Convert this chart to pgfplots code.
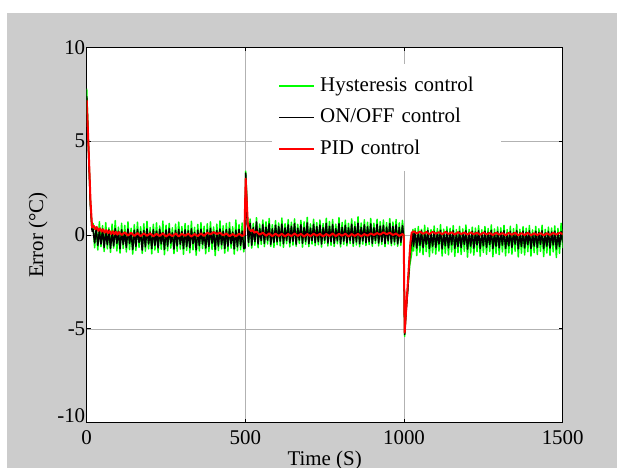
\documentclass[border=0pt]{standalone}
\usepackage{fontspec}
\setmainfont{Liberation Serif}
\usepackage{pgfplots}
\usepackage{pgfplotstable}
\pgfplotsset{compat=1.18}
\definecolor{bggray}{RGB}{204,204,204}
\definecolor{mgreen}{RGB}{0,255,0}
\definecolor{mred}{RGB}{255,0,0}

\pgfplotstableread{
t g k
0 7.80 7.40
6 4.50 4.30
12 1.60 1.50
17 0.30 0.20
20 0.62 0.30
25 -0.68 -0.42
30 0.45 0.35
35 -0.80 -0.55
40 0.71 0.22
45 -0.62 -0.48
50 0.50 0.31
55 -0.88 -0.66
60 0.66 0.18
65 -0.74 -0.52
70 0.38 0.27
75 -0.92 -0.71
80 0.58 0.12
85 -0.70 -0.58
90 0.77 0.34
95 -0.85 -0.45
100 0.42 0.20
105 -0.96 -0.74
110 0.63 0.28
115 -0.72 -0.50
120 0.51 0.15
125 -0.90 -0.67
130 0.70 0.32
135 -0.78 -0.44
140 0.36 0.10
145 -1.02 -0.78
150 0.55 0.26
155 -0.82 -0.61
160 0.68 0.30
165 -0.66 -0.40
170 0.44 0.18
175 -0.98 -0.80
180 0.60 0.24
185 -0.86 -0.63
190 0.72 0.33
195 -0.74 -0.48
200 0.40 0.16
205 -1.00 -0.72
210 0.57 0.29
215 -0.80 -0.56
220 0.65 0.21
225 -0.93 -0.69
230 0.48 0.31
235 -0.76 -0.47
240 0.74 0.14
245 -1.05 -0.77
250 0.52 0.27
255 -0.84 -0.60
260 0.62 0.34
265 -0.70 -0.43
270 0.39 0.12
275 -0.99 -0.75
280 0.58 0.25
285 -0.87 -0.58
290 0.69 0.30
295 -0.75 -0.50
300 0.45 0.19
305 -1.03 -0.73
310 0.61 0.28
315 -0.82 -0.62
320 0.50 0.22
325 -0.95 -0.68
330 0.73 0.33
335 -0.79 -0.46
340 0.41 0.15
345 -1.08 -0.79
350 0.56 0.26
355 -0.85 -0.57
360 0.66 0.31
365 -0.72 -0.49
370 0.47 0.13
375 -1.00 -0.70
380 0.60 0.27
385 -0.88 -0.61
390 0.70 0.35
395 -0.77 -0.44
400 0.43 0.18
405 -1.10 -0.76
410 0.58 0.24
415 -0.83 -0.59
420 0.75 0.32
425 -0.74 -0.52
430 0.49 0.20
435 -0.97 -0.72
440 0.62 0.29
445 -0.86 -0.60
450 0.67 0.33
455 -0.70 -0.47
460 0.44 0.16
465 -1.02 -0.74
470 0.80 0.26
475 -0.84 -0.63
480 0.55 0.30
485 -0.78 -0.55
490 0.64 0.21
495 -0.90 -0.72
499 -0.30 -0.70
501 3.40 3.30
504 2.20 2.00
507 0.40 0.30
510 -0.60 -0.40
515 0.85 0.62
520 -0.70 -0.55
525 0.62 0.40
530 -0.55 -0.35
535 0.92 0.70
540 -0.68 -0.48
545 0.58 0.35
550 -0.50 -0.30
555 0.80 0.55
560 -0.62 -0.45
565 0.70 0.42
570 -0.48 -0.28
575 0.88 0.60
580 -0.60 -0.50
585 0.55 0.33
590 -0.66 -0.40
595 0.76 0.52
600 -0.52 -0.36
605 0.64 0.45
610 -0.58 -0.32
615 0.90 0.58
620 -0.66 -0.47
625 0.60 0.38
630 -0.46 -0.29
635 0.82 0.54
640 -0.63 -0.42
645 0.68 0.47
650 -0.54 -0.34
655 0.86 0.61
660 -0.60 -0.49
665 0.57 0.36
670 -0.45 -0.27
675 0.78 0.55
680 -0.65 -0.44
685 0.70 0.40
690 -0.50 -0.33
695 0.94 0.65
700 -0.62 -0.46
705 0.59 0.37
710 -0.48 -0.30
715 0.84 0.57
720 -0.57 -0.41
725 0.66 0.44
730 -0.52 -0.35
735 0.80 0.53
740 -0.64 -0.48
745 0.61 0.39
750 -0.44 -0.28
755 0.89 0.62
760 -0.59 -0.43
765 0.72 0.46
770 -0.55 -0.36
775 0.83 0.56
780 -0.61 -0.45
785 0.58 0.34
790 -0.47 -0.31
795 0.92 0.60
800 -0.63 -0.47
805 0.67 0.41
810 -0.50 -0.33
815 0.79 0.52
820 -0.58 -0.42
825 0.62 0.38
830 -0.46 -0.29
835 0.86 0.58
840 -0.60 -0.44
845 0.70 0.45
850 -0.53 -0.37
855 0.97 0.63
860 -0.62 -0.46
865 0.64 0.40
870 -0.49 -0.32
875 0.81 0.55
880 -0.56 -0.41
885 0.68 0.44
890 -0.51 -0.34
895 0.88 0.59
900 -0.60 -0.45
905 0.63 0.39
910 -0.45 -0.30
915 0.84 0.57
920 -0.58 -0.43
925 0.71 0.47
930 -0.50 -0.35
935 0.80 0.52
940 -0.62 -0.46
945 0.66 0.42
950 -0.48 -0.31
955 0.87 0.60
960 -0.57 -0.44
965 0.69 0.46
970 -0.52 -0.36
975 0.82 0.54
980 -0.60 -0.47
985 0.65 0.40
990 -0.55 -0.38
995 0.78 0.50
999 0.10 -0.10
1002 -5.40 -5.30
1006 -4.00 -4.20
1012 -2.80 -2.90
1018 -1.60 -1.20
1024 -1.00 -0.30
1028 0.30 0.10
1030 -0.85 -0.60
1035 0.35 0.20
1040 -1.10 -0.70
1045 0.45 0.15
1050 -0.92 -0.55
1055 0.30 0.22
1060 -1.05 -0.68
1065 0.52 0.12
1070 -0.88 -0.50
1075 0.38 0.24
1080 -1.15 -0.72
1085 0.28 0.10
1090 -0.95 -0.60
1095 0.48 0.20
1100 -1.02 -0.66
1105 0.34 0.14
1110 -0.86 -0.48
1115 0.55 0.25
1120 -1.12 -0.74
1125 0.31 0.11
1130 -0.97 -0.58
1135 0.44 0.21
1140 -1.06 -0.69
1145 0.36 0.16
1150 -0.90 -0.52
1155 0.50 0.23
1160 -1.14 -0.71
1165 0.29 0.09
1170 -0.94 -0.61
1175 0.46 0.19
1180 -1.04 -0.67
1185 0.33 0.13
1190 -0.87 -0.50
1195 0.53 0.24
1200 -1.18 -0.75
1205 0.30 0.12
1210 -0.96 -0.59
1215 0.42 0.20
1220 -1.07 -0.70
1225 0.37 0.15
1230 -0.89 -0.53
1235 0.49 0.22
1240 -1.13 -0.72
1245 0.28 0.10
1250 -0.93 -0.57
1255 0.45 0.21
1260 -1.03 -0.66
1265 0.35 0.14
1270 -0.88 -0.51
1275 0.54 0.25
1280 -1.16 -0.73
1285 0.32 0.11
1290 -0.98 -0.60
1295 0.43 0.19
1300 -1.05 -0.68
1305 0.38 0.16
1310 -0.90 -0.54
1315 0.51 0.23
1320 -1.11 -0.71
1325 0.29 0.10
1330 -0.95 -0.58
1335 0.47 0.20
1340 -1.02 -0.67
1345 0.34 0.13
1350 -0.86 -0.49
1355 0.56 0.24
1360 -1.17 -0.74
1365 0.31 0.12
1370 -0.97 -0.61
1375 0.44 0.21
1380 -1.06 -0.69
1385 0.36 0.15
1390 -0.89 -0.52
1395 0.50 0.22
1400 -1.12 -0.72
1405 0.27 0.09
1410 -0.94 -0.59
1415 0.46 0.20
1420 -1.04 -0.66
1425 0.33 0.14
1430 -0.87 -0.50
1435 0.52 0.23
1440 -1.15 -0.73
1445 0.30 0.11
1450 -0.96 -0.60
1455 0.42 0.19
1460 -1.08 -0.70
1465 0.37 0.16
1470 -0.90 -0.53
1475 0.48 0.21
1480 -1.20 -0.74
1485 0.35 0.12
1490 -0.98 -0.62
1495 0.62 0.18
1500 -0.70 -0.40
}\gk

\pgfplotstableread{
t r
0 7.20
6 4.60
12 1.80
17 0.40
22 0.50
27 0.30
32 0.42
37 0.22
42 0.35
47 0.18
52 0.30
57 0.12
62 0.26
67 0.10
72 0.22
77 0.05
82 0.20
87 0.04
92 0.17
97 0.02
102 0.15
110 0.00
120 0.14
130 -0.03
140 0.12
150 -0.05
160 0.10
170 -0.06
180 0.09
190 -0.04
200 0.08
210 -0.07
220 0.06
230 -0.05
240 0.09
250 -0.08
260 0.05
270 -0.06
280 0.08
290 -0.07
300 0.06
310 -0.04
320 0.07
330 -0.08
340 0.05
350 -0.06
360 0.08
370 -0.05
380 0.12
390 0.04
400 0.15
410 0.06
420 0.12
430 -0.02
440 0.08
450 -0.06
460 0.05
470 -0.07
480 0.06
490 -0.05
497 0.02
501 3.00
504 1.90
508 0.50
513 0.30
518 0.20
523 0.28
528 0.12
535 0.18
545 0.02
555 0.12
565 -0.04
575 0.08
585 -0.06
595 0.07
605 -0.05
615 0.06
625 -0.07
635 0.05
645 -0.06
655 0.08
665 -0.05
675 0.06
685 -0.08
695 0.05
705 -0.06
715 0.07
725 -0.04
735 0.06
745 -0.07
755 0.05
765 -0.05
775 0.08
785 -0.06
795 0.06
805 -0.04
815 0.07
825 -0.08
835 0.05
845 -0.05
855 0.06
865 -0.07
875 0.05
885 -0.04
895 0.08
905 0.00
915 0.10
925 0.02
935 0.14
945 0.04
955 0.12
965 0.00
975 0.08
985 -0.05
995 0.05
999 0.00
1002 -5.20
1008 -3.60
1014 -2.00
1020 -0.40
1024 0.12
1030 0.20
1040 0.08
1050 0.18
1060 0.06
1070 0.16
1080 0.05
1090 0.17
1100 0.07
1110 0.15
1120 0.04
1130 0.16
1140 0.06
1150 0.14
1160 0.03
1170 0.15
1180 0.05
1190 0.13
1200 0.02
1210 0.14
1220 0.04
1230 0.12
1240 0.01
1250 0.13
1260 0.03
1270 0.11
1280 0.00
1290 0.12
1300 0.02
1310 0.10
1320 -0.01
1330 0.11
1340 0.01
1350 0.12
1360 -0.02
1370 0.10
1380 0.00
1390 0.11
1400 -0.01
1410 0.09
1420 0.00
1430 0.10
1440 -0.02
1450 0.09
1460 0.00
1470 0.11
1480 0.02
1490 0.12
1500 0.05
}\red

\begin{document}
\begin{tikzpicture}
\useasboundingbox (0,0) rectangle (617bp,468bp);
\fill[white] (0,0) rectangle (617bp,468bp);
\fill[bggray] (7bp,0) rectangle (617bp,455bp);
\begin{axis}[
  at={(86.7bp,45.3bp)}, anchor=south west,
  width=476bp, height=375.4bp, scale only axis,
  axis background/.style={fill=white},
  font=\fontsize{21}{25}\selectfont,
  xmin=0, xmax=1500, ymin=-10, ymax=10,
  xtick={0,500,1000,1500},
  ytick={-10,-5,0,5,10},
  xticklabel={\pgfmathprintnumber[assume math mode=true, set thousands separator={}]{\tick}},
  yticklabel={\ifdim\tick pt<-9pt\raisebox{0pt}[0pt][0pt]{\pgfmathprintnumber[assume math mode=true]{\tick}}\else\pgfmathprintnumber[assume math mode=true]{\tick}\fi},
  grid=major, grid style={gray!60, line width=0.6bp},
  tick align=inside, major tick length=4bp,
  tick style={black, line width=0.8bp},
  axis line style={line width=1bp},
  yticklabel style={xshift=2bp},
  xticklabel style={yshift=-4bp},
  xlabel={Time (S)}, ylabel={Error (°C)},
  xlabel style={at={(axis description cs:0.5,-0.1127)}, anchor=base},
  ylabel style={at={(axis description cs:-0.1023,0.5)}, anchor=center},
  legend cell align=left,
  legend image code/.code={\draw[#1] (0bp,0bp) -- (35bp,0bp);},
  legend style={at={(axis description cs:0.3893,0.9555)}, anchor=north west,
    draw=none, fill=white, inner xsep=6bp, inner ysep=10bp, row sep=7.5bp,
    nodes={inner xsep=5bp, inner ysep=2bp, text width=170bp, align=left, text height=15bp, text depth=5bp}},
]
\addplot[mgreen, line width=1.5bp, line join=round] table[x=t, y=g]{\gk};
\addlegendentry{Hysteresis control}
\addplot[black, line width=1.5bp, line join=round] table[x=t, y=k]{\gk};
\addlegendentry{ON/OFF control}
\addplot[mred, line width=2bp, line join=round] table[x=t, y=r]{\red};
\addlegendentry{PID control}
\end{axis}
\end{tikzpicture}
\end{document}
